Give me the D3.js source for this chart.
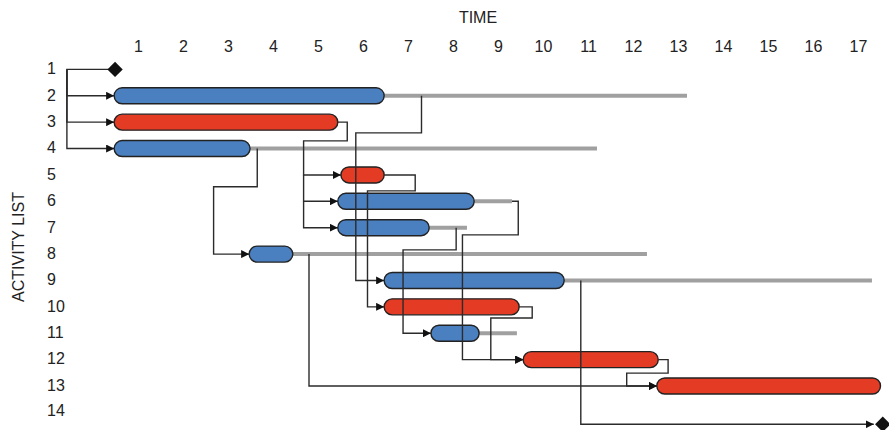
<!DOCTYPE html>
<html>
<head>
<meta charset="utf-8">
<style>
  body { margin: 0; background: #fff; }
  svg { display: block; }
  text { font-family: "Liberation Sans", Arial, sans-serif; font-size: 16px; fill: #222; }
  .float-line { stroke: #a0a0a0; stroke-width: 4; }
  .link { fill: none; stroke: #2b2b2b; stroke-width: 1.4; }
  .bar { stroke: #222; stroke-width: 1.4; }
</style>
<script src="https://d3js.org/d3.v7.min.js"></script>
</head>
<body>
<svg id="chart" width="889" height="430"></svg>
<script>
const timeTicks = d3.range(1, 18);
const rowLabels = d3.range(1, 15);

// activities 2..13: start, finish, end of float (null = none), critical
const actIds      = [2, 3, 4, 5, 6, 7, 8, 9, 10, 11, 12, 13];
const actStart    = [0.47, 0.47, 0.47, 5.51, 5.44, 5.44, 3.47, 6.47, 6.47, 7.51, 9.56, 12.53];
const actFinish   = [6.47, 5.44, 3.49, 6.47, 8.47, 7.47, 4.44, 10.47, 9.47, 8.58, 12.56, 17.5];
const actFloatEnd = [13.2, null, 11.2, null, 9.31, 8.31, 12.31, 17.31, null, 9.42, null, null];
const actCritical = [false, true, false, true, false, false, false, false, true, false, true, true];

// milestones: start (activity 1) and end (activity 14)
const milestones = [
  { id: 1, t: 0.49, row: 1 },
  { id: 14, t: 17.55, row: 14.45 }
];

// precedence links as [time, row] waypoints
const links = [
  { from: 1, to: 2, pts: [[0.49, 1], [-0.58, 1], [-0.58, 2], [0.47, 2]] },
  { from: 1, to: 3, pts: [[-0.58, 1], [-0.58, 3], [0.47, 3]] },
  { from: 1, to: 4, pts: [[-0.58, 1], [-0.58, 4], [0.47, 4]] },
  { from: 2, to: 9, pts: [[7.30, 2], [7.30, 3.405], [5.84, 3.405], [5.84, 9], [6.47, 9]] },
  { from: 3, to: 5, pts: [[5.44, 3], [5.65, 3], [5.65, 3.71], [4.68, 3.71], [4.68, 5], [5.51, 5]] },
  { from: 3, to: 6, pts: [[4.68, 5], [4.68, 6], [5.44, 6]] },
  { from: 3, to: 7, pts: [[4.68, 6], [4.68, 7], [5.44, 7]] },
  { from: 4, to: 8, pts: [[3.65, 4], [3.65, 5.45], [2.68, 5.45], [2.68, 8], [3.47, 8]] },
  { from: 5, to: 10, pts: [[6.47, 5], [7.16, 5], [7.16, 5.605], [6.10, 5.605], [6.10, 10], [6.47, 10]] },
  { from: 6, to: 12, pts: [[9.31, 6], [9.45, 6], [9.45, 7.27], [8.21, 7.27], [8.21, 12], [9.56, 12]] },
  { from: 7, to: 11, pts: [[8.07, 7], [8.07, 7.84], [6.89, 7.84], [6.89, 11], [7.51, 11]] },
  { from: 8, to: 13, pts: [[4.80, 8], [4.80, 13], [12.53, 13]] },
  { from: 9, to: 14, pts: [[10.84, 9], [10.84, 14.45], [17.35, 14.45]] },
  { from: 10, to: 12, pts: [[9.47, 10], [9.76, 10], [9.76, 10.42], [8.84, 10.42], [8.84, 12], [9.56, 12]] },
  { from: 12, to: 13, pts: [[12.56, 12], [12.78, 12], [12.78, 12.51], [11.86, 12.51], [11.86, 13], [12.53, 13]] }
];

const svg = d3.select("#chart");

const x = d3.scaleLinear().domain([0, 17]).range([93, 858]);
const y = d3.scaleLinear().domain([1, 14]).range([69.4, 412.4]);
const barH = 16;

const activities = actIds.map((id, i) => ({
  id, start: actStart[i], finish: actFinish[i], floatEnd: actFloatEnd[i], critical: actCritical[i]
}));

// axis titles
svg.append("text").attr("x", 478).attr("y", 23).attr("text-anchor", "middle").text("TIME");
svg.append("text")
  .attr("transform", "translate(24,247) rotate(-90)")
  .attr("text-anchor", "middle")
  .text("ACTIVITY LIST");

// time ticks on top
const xAxis = d3.axisTop(x).tickValues(timeTicks).tickSize(0).tickPadding(0);
const gx = svg.append("g").attr("transform", "translate(0,52)").call(xAxis);
gx.select(".domain").remove();
gx.selectAll("text").attr("font-family", null).attr("font-size", null).attr("fill", null);

// activity numbers on the left
svg.append("g").selectAll("text")
  .data(rowLabels)
  .join("text")
  .attr("x", 47)
  .attr("y", d => y(d))
  .attr("dy", d => d === 14 ? "0.2em" : "0.3em")
  .text(d => d);

// arrow marker
svg.append("defs").append("marker")
  .attr("id", "arrow")
  .attr("viewBox", "0 0 10 10")
  .attr("refX", 10).attr("refY", 5)
  .attr("markerWidth", 8).attr("markerHeight", 8)
  .attr("markerUnits", "userSpaceOnUse")
  .attr("orient", "auto")
  .append("path")
  .attr("d", "M0,0 L10,5 L0,10 Z")
  .attr("fill", "#111");

// float lines
svg.append("g").selectAll("line")
  .data(activities.filter(d => d.floatEnd !== null))
  .join("line")
  .attr("class", "float-line")
  .attr("x1", d => x(d.finish) - 4)
  .attr("x2", d => x(d.floatEnd))
  .attr("y1", d => y(d.id))
  .attr("y2", d => y(d.id));

// bars
svg.append("g").selectAll("rect")
  .data(activities)
  .join("rect")
  .attr("class", "bar")
  .attr("x", d => x(d.start))
  .attr("y", d => y(d.id) - barH / 2)
  .attr("width", d => x(d.finish) - x(d.start))
  .attr("height", barH)
  .attr("rx", barH / 2)
  .attr("fill", d => d.critical ? "#e33b24" : "#4a7fc0");

// links
const line = d3.line().x(p => x(p[0])).y(p => y(p[1]));
svg.append("g").selectAll("path")
  .data(links)
  .join("path")
  .attr("class", "link")
  .attr("d", d => line(d.pts))
  .attr("marker-end", "url(#arrow)");

// milestones
svg.append("g").selectAll("path")
  .data(milestones)
  .join("path")
  .attr("transform", d => `translate(${x(d.t)},${y(d.row)})`)
  .attr("d", d3.symbol(d3.symbolDiamond2, 150))
  .attr("fill", "#111");
</script>
</body>
</html>
